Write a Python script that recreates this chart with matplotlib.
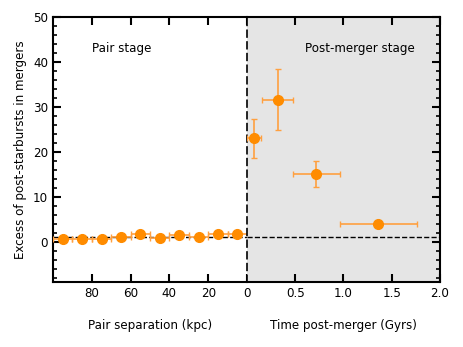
import matplotlib
matplotlib.use("Agg")
import matplotlib.pyplot as plt
from matplotlib.ticker import MultipleLocator

# pair stage: separation bins (kpc)
pair_sep = [95, 85, 75, 65, 55, 45, 35, 25, 15, 5]
pair_excess = [0.7, 0.6, 0.6, 1.1, 1.7, 0.8, 1.4, 1.0, 1.8, 1.8]
pair_xerr = [5, 5, 5, 5, 5, 5, 5, 5, 5, 5]
pair_yerr = [0.3, 0.3, 0.3, 0.3, 0.4, 0.3, 0.3, 0.3, 0.4, 0.4]

# post-merger stage: time bins (Gyr)
post_time = [0.07, 0.32, 0.72, 1.36]
post_excess = [23.0, 31.6, 15.0, 3.9]
post_xerr = [0.075, 0.16, 0.24, 0.40]
post_yerr = [4.3, 6.8, 2.9, 0.3]

orange = "#ff8c00"
err_color = "#ffa040"
fs = 8.6

fig = plt.figure(figsize=(4.63, 3.47), dpi=100)
ax1 = fig.add_axes([0.1145, 0.187, 0.419, 0.764])
ax2 = fig.add_axes([0.5335, 0.187, 0.4165, 0.764], sharey=ax1)

for ax in (ax1, ax2):
    ax.axhline(1, color="black", linestyle="--", linewidth=1.0, zorder=1)
    ax.tick_params(which="both", direction="in", top=True, right=True, labelsize=fs)
    ax.tick_params(which="major", length=6, width=1.5)
    ax.tick_params(which="minor", length=3, width=1.2)
    ax.yaxis.set_major_locator(MultipleLocator(10))
    ax.yaxis.set_minor_locator(MultipleLocator(2))
    for s in ax.spines.values():
        s.set_linewidth(1.5)

ax1.errorbar(pair_sep, pair_excess, xerr=pair_xerr, yerr=pair_yerr, fmt="o",
             color=orange, ecolor=err_color, markersize=7, capsize=2,
             elinewidth=1.2, zorder=3)
ax1.set_xlim(100, 0)
ax1.set_ylim(-9, 50)
ax1.set_xticks([80, 60, 40, 20, 0])
ax1.tick_params(axis="y", which="both", right=False)
ax1.spines["right"].set_visible(False)
ax1.set_ylabel("Excess of post-starbursts in mergers", fontsize=fs)
ax1.set_xlabel("Pair separation (kpc)", fontsize=fs, labelpad=14)
ax1.text(0.20, 0.883, "Pair stage", transform=ax1.transAxes, fontsize=fs,
         va="center")

ax2.set_facecolor("#e5e5e5")
ax2.errorbar(post_time, post_excess, xerr=post_xerr, yerr=post_yerr, fmt="o",
             color=orange, ecolor=err_color, markersize=7, capsize=2,
             elinewidth=1.2, zorder=3)
ax2.set_xlim(0, 2.0)
ax2.set_xticks([0.5, 1.0, 1.5, 2.0])
ax2.tick_params(axis="y", which="both", left=False, labelleft=False)
ax2.spines["left"].set_linestyle((0, (4, 3)))
ax2.spines["left"].set_linewidth(1.2)
ax2.set_xlabel("Time post-merger (Gyrs)", fontsize=fs, labelpad=14)
ax2.text(0.30, 0.883, "Post-merger stage", transform=ax2.transAxes, fontsize=fs,
         va="center")

fig.savefig("out.png", dpi=100)
plt.close(fig)
